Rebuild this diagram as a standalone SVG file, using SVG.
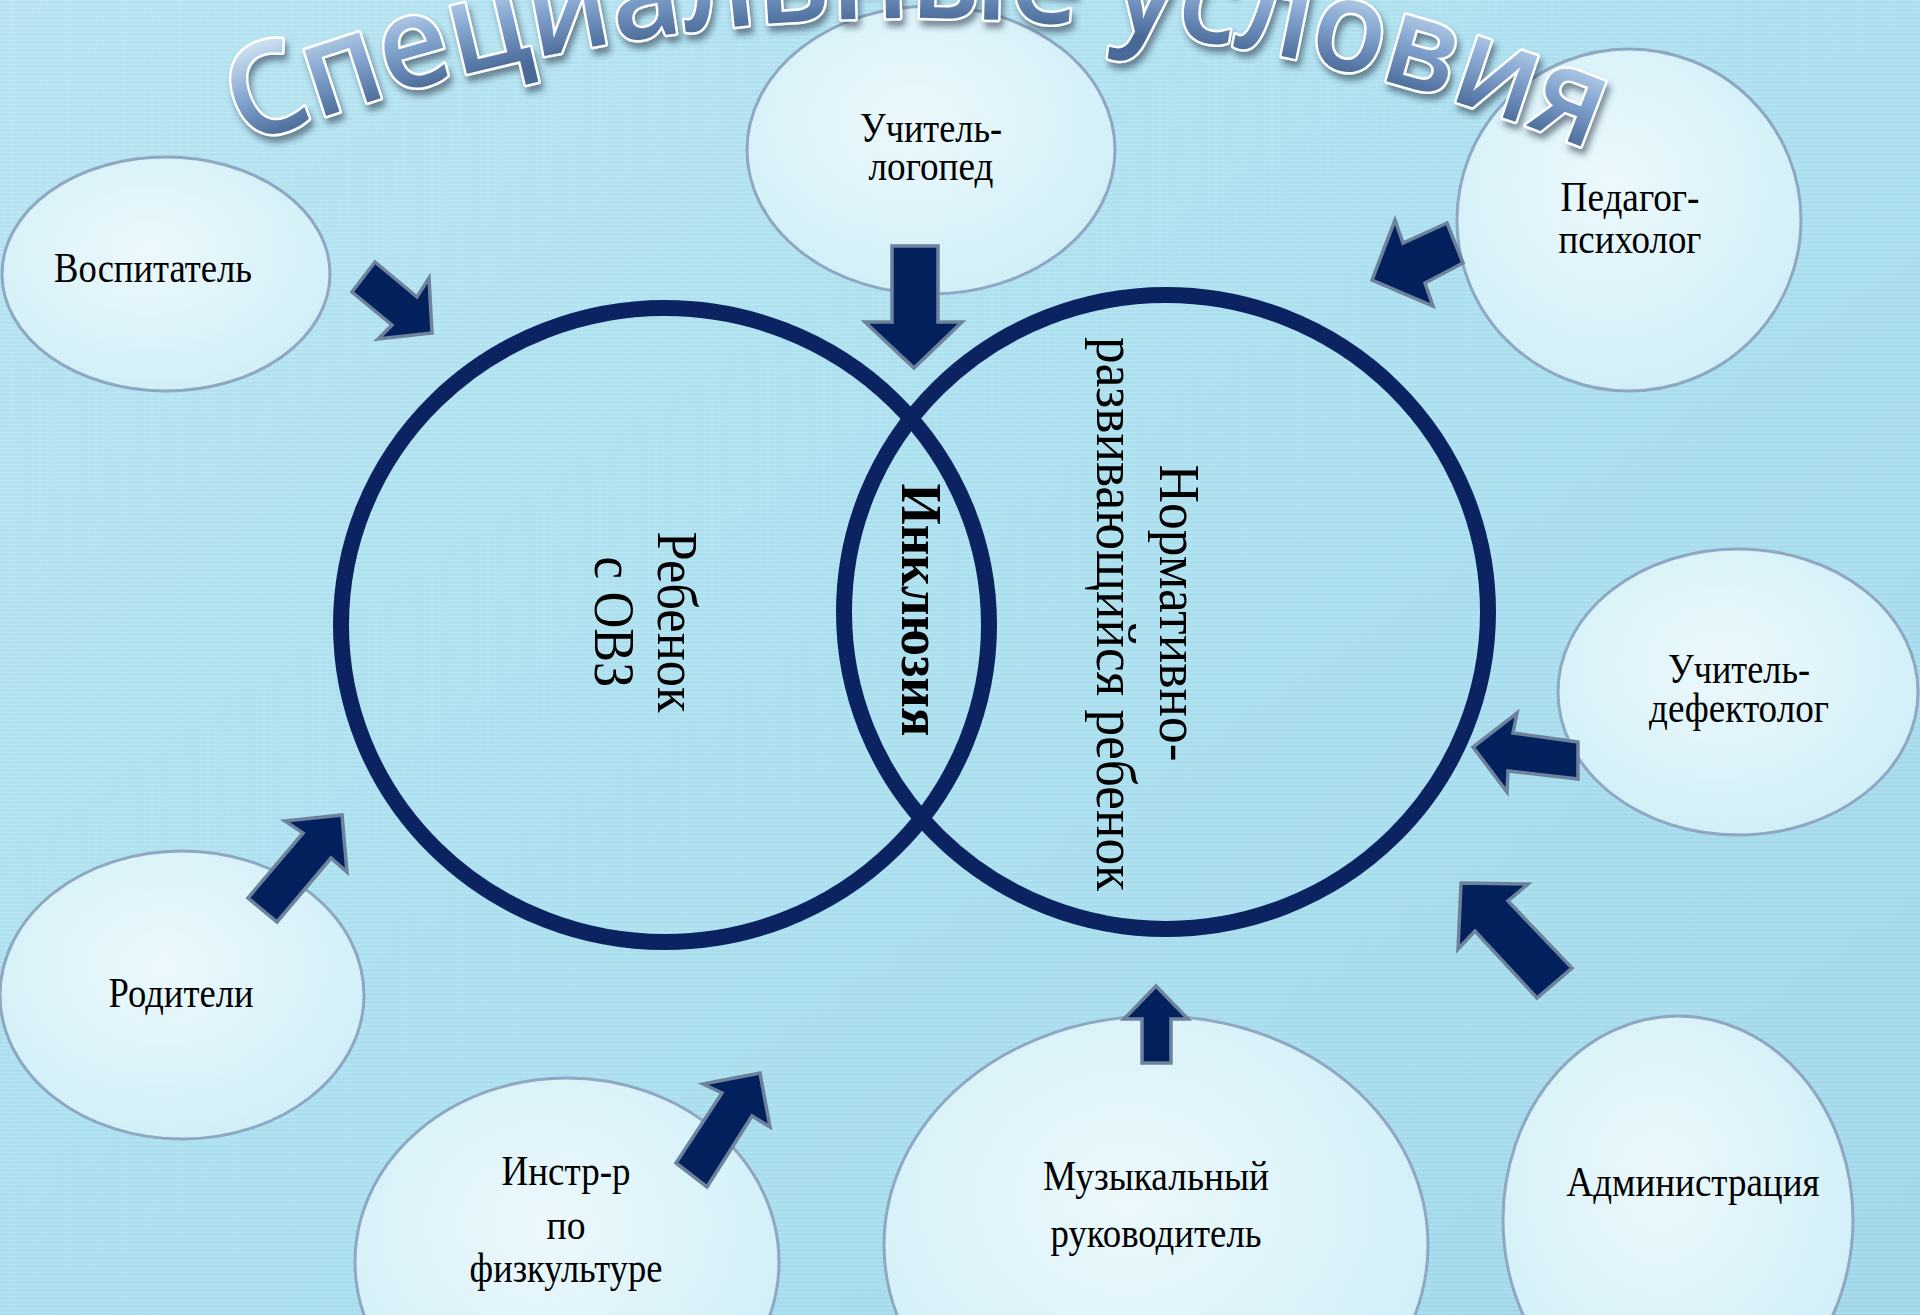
<svg xmlns="http://www.w3.org/2000/svg" width="1920" height="1315" viewBox="0 0 1920 1315">
  <defs>
    <linearGradient id="bg" x1="0" y1="0" x2="1" y2="1">
      <stop offset="0" stop-color="#b8e4f1"/>
      <stop offset="0.5" stop-color="#ace0ef"/>
      <stop offset="1" stop-color="#a2d7ea"/>
    </linearGradient>
    <pattern id="tex" width="7" height="4" patternUnits="userSpaceOnUse">
      <rect width="7" height="1" fill="#ffffff" opacity="0.13"/>
      <rect y="2" width="3" height="1" fill="#7fb6cc" opacity="0.08"/>
    </pattern>
    <radialGradient id="ellFill" cx="0.45" cy="0.4" r="0.65">
      <stop offset="0" stop-color="#ecf9fc"/>
      <stop offset="1" stop-color="#cfeef7"/>
    </radialGradient>
    <radialGradient id="titleFill" gradientUnits="userSpaceOnUse" cx="912" cy="1818" r="1900">
      <stop offset="0.945" stop-color="#4a6a98"/>
      <stop offset="0.972" stop-color="#86a8d2"/>
      <stop offset="1" stop-color="#dbe9f7"/>
    </radialGradient>
    <filter id="shadow" x="-10%" y="-30%" width="120%" height="160%">
      <feDropShadow dx="3" dy="6" stdDeviation="3" flood-color="#25354d" flood-opacity="0.55"/>
    </filter>
    <path id="arc" d="M 245 146.4 A 1800 1800 0 0 1 1590 150.4"/>
    <style>
      .ell { fill: url(#ellFill); stroke: #8ea7c3; stroke-width: 3; }
      .lbl { font-family: "Liberation Serif", "Times New Roman", serif; font-size: 42px; fill: #000; text-anchor: middle; }
      .big { fill: none; stroke: #0b2461; stroke-width: 16; }
      .vt { font-family: "Liberation Serif", "Times New Roman", serif; font-size: 56px; fill: #000; text-anchor: middle; }
      .arr { fill: #02205c; stroke: #6d839d; stroke-width: 3.5; stroke-linejoin: miter; }
      .title { font-family: "Open Sans", "DejaVu Sans", sans-serif; font-weight: 600; font-size: 128px; fill: url(#titleFill); stroke: #ffffff; stroke-width: 5; paint-order: stroke; stroke-linejoin: round; }
    </style>
  </defs>

  <rect width="1920" height="1315" fill="url(#bg)"/>
  <rect width="1920" height="1315" fill="url(#tex)"/>

  <g id="child-ovz">
    <ellipse class="big" cx="665" cy="625" rx="324" ry="317"/>
    <text class="vt" textLength="181" lengthAdjust="spacingAndGlyphs" transform="translate(658,622) rotate(90)">Ребенок</text>
    <text class="vt" textLength="131" lengthAdjust="spacingAndGlyphs" transform="translate(595,622) rotate(90)">с ОВЗ</text>
  </g>

  <g id="normal-child">
    <ellipse class="big" cx="1166" cy="612" rx="322" ry="317"/>
    <text class="vt" textLength="297" lengthAdjust="spacingAndGlyphs" transform="translate(1160,613) rotate(90)">Нормативно-</text>
    <text class="vt" textLength="554" lengthAdjust="spacingAndGlyphs" transform="translate(1097,614) rotate(90)">развивающийся ребенок</text>
  </g>

  <g id="inclusion">
    <text class="vt" font-weight="bold" textLength="253" lengthAdjust="spacingAndGlyphs" transform="translate(902,610) rotate(90)">Инклюзия</text>
  </g>

  <g id="vospitatel">
    <ellipse class="ell" cx="166" cy="274" rx="164" ry="117"/>
    <text class="lbl" x="153" y="282" textLength="198" lengthAdjust="spacingAndGlyphs">Воспитатель</text>
  </g>

  <g id="logoped">
    <ellipse class="ell" cx="931" cy="150" rx="184" ry="144"/>
    <text class="lbl" x="931" y="142" textLength="142" lengthAdjust="spacingAndGlyphs">Учитель-</text>
    <text class="lbl" x="931" y="180" textLength="125" lengthAdjust="spacingAndGlyphs">логопед</text>
  </g>

  <g id="psiholog">
    <ellipse class="ell" cx="1629" cy="220" rx="172" ry="171"/>
    <text class="lbl" x="1630" y="211" textLength="139" lengthAdjust="spacingAndGlyphs">Педагог-</text>
    <text class="lbl" x="1630" y="253" textLength="143" lengthAdjust="spacingAndGlyphs">психолог</text>
  </g>

  <g id="defektolog">
    <ellipse class="ell" cx="1738" cy="692" rx="180" ry="143"/>
    <text class="lbl" x="1739" y="683" textLength="142" lengthAdjust="spacingAndGlyphs">Учитель-</text>
    <text class="lbl" x="1739" y="722" textLength="180" lengthAdjust="spacingAndGlyphs">дефектолог</text>
  </g>

  <g id="administration">
    <ellipse class="ell" cx="1678" cy="1220" rx="175" ry="204"/>
    <text class="lbl" x="1693" y="1196" textLength="253" lengthAdjust="spacingAndGlyphs">Администрация</text>
  </g>

  <g id="music">
    <ellipse class="ell" cx="1156" cy="1245" rx="272" ry="229"/>
    <text class="lbl" x="1156" y="1190" textLength="226" lengthAdjust="spacingAndGlyphs">Музыкальный</text>
    <text class="lbl" x="1156" y="1247" textLength="211" lengthAdjust="spacingAndGlyphs">руководитель</text>
  </g>

  <g id="fizkultura">
    <ellipse class="ell" cx="567" cy="1262" rx="212" ry="184"/>
    <text class="lbl" x="566" y="1185" textLength="129" lengthAdjust="spacingAndGlyphs">Инстр-р</text>
    <text class="lbl" x="566" y="1239" textLength="39" lengthAdjust="spacingAndGlyphs">по</text>
    <text class="lbl" x="566" y="1282" textLength="193" lengthAdjust="spacingAndGlyphs">физкультуре</text>
  </g>

  <g id="roditeli">
    <ellipse class="ell" cx="182" cy="995" rx="182" ry="144"/>
    <text class="lbl" x="181" y="1007" textLength="145" lengthAdjust="spacingAndGlyphs">Родители</text>
  </g>

  <g id="connectors">
    <polygon class="arr" points="375,262 417,297 429,278 432,333 378,339 392,325 352,292"/>
    <polygon class="arr" points="892,246 938,246 938,322 962,322 914,368 865,322 892,322"/>
    <polygon class="arr" points="1447,223 1463,263 1425,283 1433,306 1372,280 1395,220 1403,243"/>
    <polygon class="arr" points="1578,742 1578,779 1508,771 1507,792 1473,747 1517,713 1513,733"/>
    <polygon class="arr" points="1461,883 1528,884 1508,901 1572,968 1537,998 1475,931 1458,949"/>
    <polygon class="arr" points="1142,1063 1171,1063 1171,1019 1188,1019 1156,986 1124,1019 1142,1019"/>
    <polygon class="arr" points="760,1073 770,1127 752,1116 707,1187 676,1163 722,1093 703,1084"/>
    <polygon class="arr" points="342,815 347,872 331,858 277,922 248,898 303,833 285,821"/>
  </g>

  <g id="title" filter="url(#shadow)">
    <text class="title"><textPath href="#arc" textLength="1378" lengthAdjust="spacingAndGlyphs">Специальные условия</textPath></text>
  </g>
</svg>
